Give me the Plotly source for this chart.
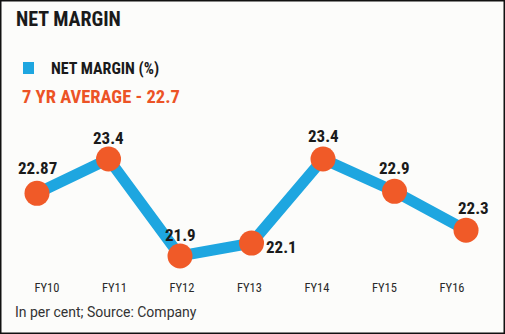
import plotly.graph_objects as go

categories = ["FY10", "FY11", "FY12", "FY13", "FY14", "FY15", "FY16"]
net_margin = [22.87, 23.4, 21.9, 22.1, 23.4, 22.9, 22.3]
value_labels = ["22.87", "23.4", "21.9", "22.1", "23.4", "22.9", "22.3"]
title_text = "NET MARGIN"
legend_text = "NET MARGIN (%)"
average_text = "7 YR AVERAGE - 22.7"
footer_text = "In per cent; Source: Company"

BLUE = "#1ea6e0"
ORANGE = "#f05a28"
COND = "Roboto Condensed, Open Sans Condensed, sans-serif"

idx = list(range(len(categories)))

fig = go.Figure()
fig.add_trace(go.Scatter(
    x=idx, y=net_margin, mode="lines+markers",
    line=dict(color=BLUE, width=11),
    marker=dict(color=ORANGE, size=25),
    showlegend=False, hoverinfo="skip", xaxis="x", yaxis="y",
))
# invisible trace carrying the category tick labels
fig.add_trace(go.Scatter(
    x=idx, y=net_margin, mode="none", showlegend=False, hoverinfo="skip",
    xaxis="x2", yaxis="y",
))

offsets = [(0, 25), (0, 21), (0, 21), (30, -4), (0, 23), (0, 23), (7, 22)]
for i, (v, lab) in enumerate(zip(net_margin, value_labels)):
    dx, dy = offsets[i]
    fig.add_annotation(x=i, y=v, xref="x", yref="y", text=f"<b>{lab}</b>",
                       showarrow=False, xshift=dx, yshift=dy,
                       font=dict(family=COND, size=17, color="#1a1a1a"))

fig.add_annotation(x=14, y=19, xref="paper", yref="paper", text=f"<b>{title_text}</b>",
                   showarrow=False, xanchor="left", yanchor="middle",
                   font=dict(family=COND, size=20, color="#1a1a1a"))
fig.add_annotation(x=49, y=68, xref="paper", yref="paper", text=f"<b>{legend_text}</b>",
                   showarrow=False, xanchor="left", yanchor="middle",
                   font=dict(family=COND, size=16, color="#1a1a1a"))
fig.add_annotation(x=20, y=97, xref="paper", yref="paper", text=f"<b>{average_text}</b>",
                   showarrow=False, xanchor="left", yanchor="middle",
                   font=dict(family=COND, size=18.5, color="#ec5326"))
fig.add_annotation(x=13, y=312, xref="paper", yref="paper", text=footer_text,
                   showarrow=False, xanchor="left", yanchor="middle",
                   font=dict(family="Roboto, sans-serif", size=14, color="#333333"))

# convert pixel-based paper positions for the text annotations
for a in fig.layout.annotations:
    if a.xref == "paper":
        a.x = a.x / 505
        a.y = 1 - a.y / 334

fig.add_shape(type="rect", xref="paper", yref="paper",
              x0=23 / 505, x1=34 / 505, y0=1 - 62 / 334, y1=1 - 74 / 334,
              fillcolor=BLUE, line=dict(width=0))
fig.add_shape(type="rect", xref="paper", yref="paper", x0=0, x1=1, y0=0, y1=1,
              line=dict(color="#111111", width=3), fillcolor="rgba(0,0,0,0)")

fig.update_layout(
    width=505, height=334,
    margin=dict(l=0, r=0, t=0, b=0),
    paper_bgcolor="#fcfcfa", plot_bgcolor="#fcfcfa",
    xaxis=dict(range=[-0.5175, 6.545], visible=False, domain=[0, 1]),
    xaxis2=dict(range=[-0.696, 6.785], overlaying="x", anchor="free",
                position=(334 - 278) / 334, tickmode="array", tickvals=idx,
                ticktext=categories, showgrid=False, zeroline=False,
                showline=False, ticks="",
                tickfont=dict(family=COND, size=12.5, color="#2a2a2a")),
    yaxis=dict(range=[20.694, 25.859], visible=False, domain=[0, 1]),
)

fig.write_html("out.html")
